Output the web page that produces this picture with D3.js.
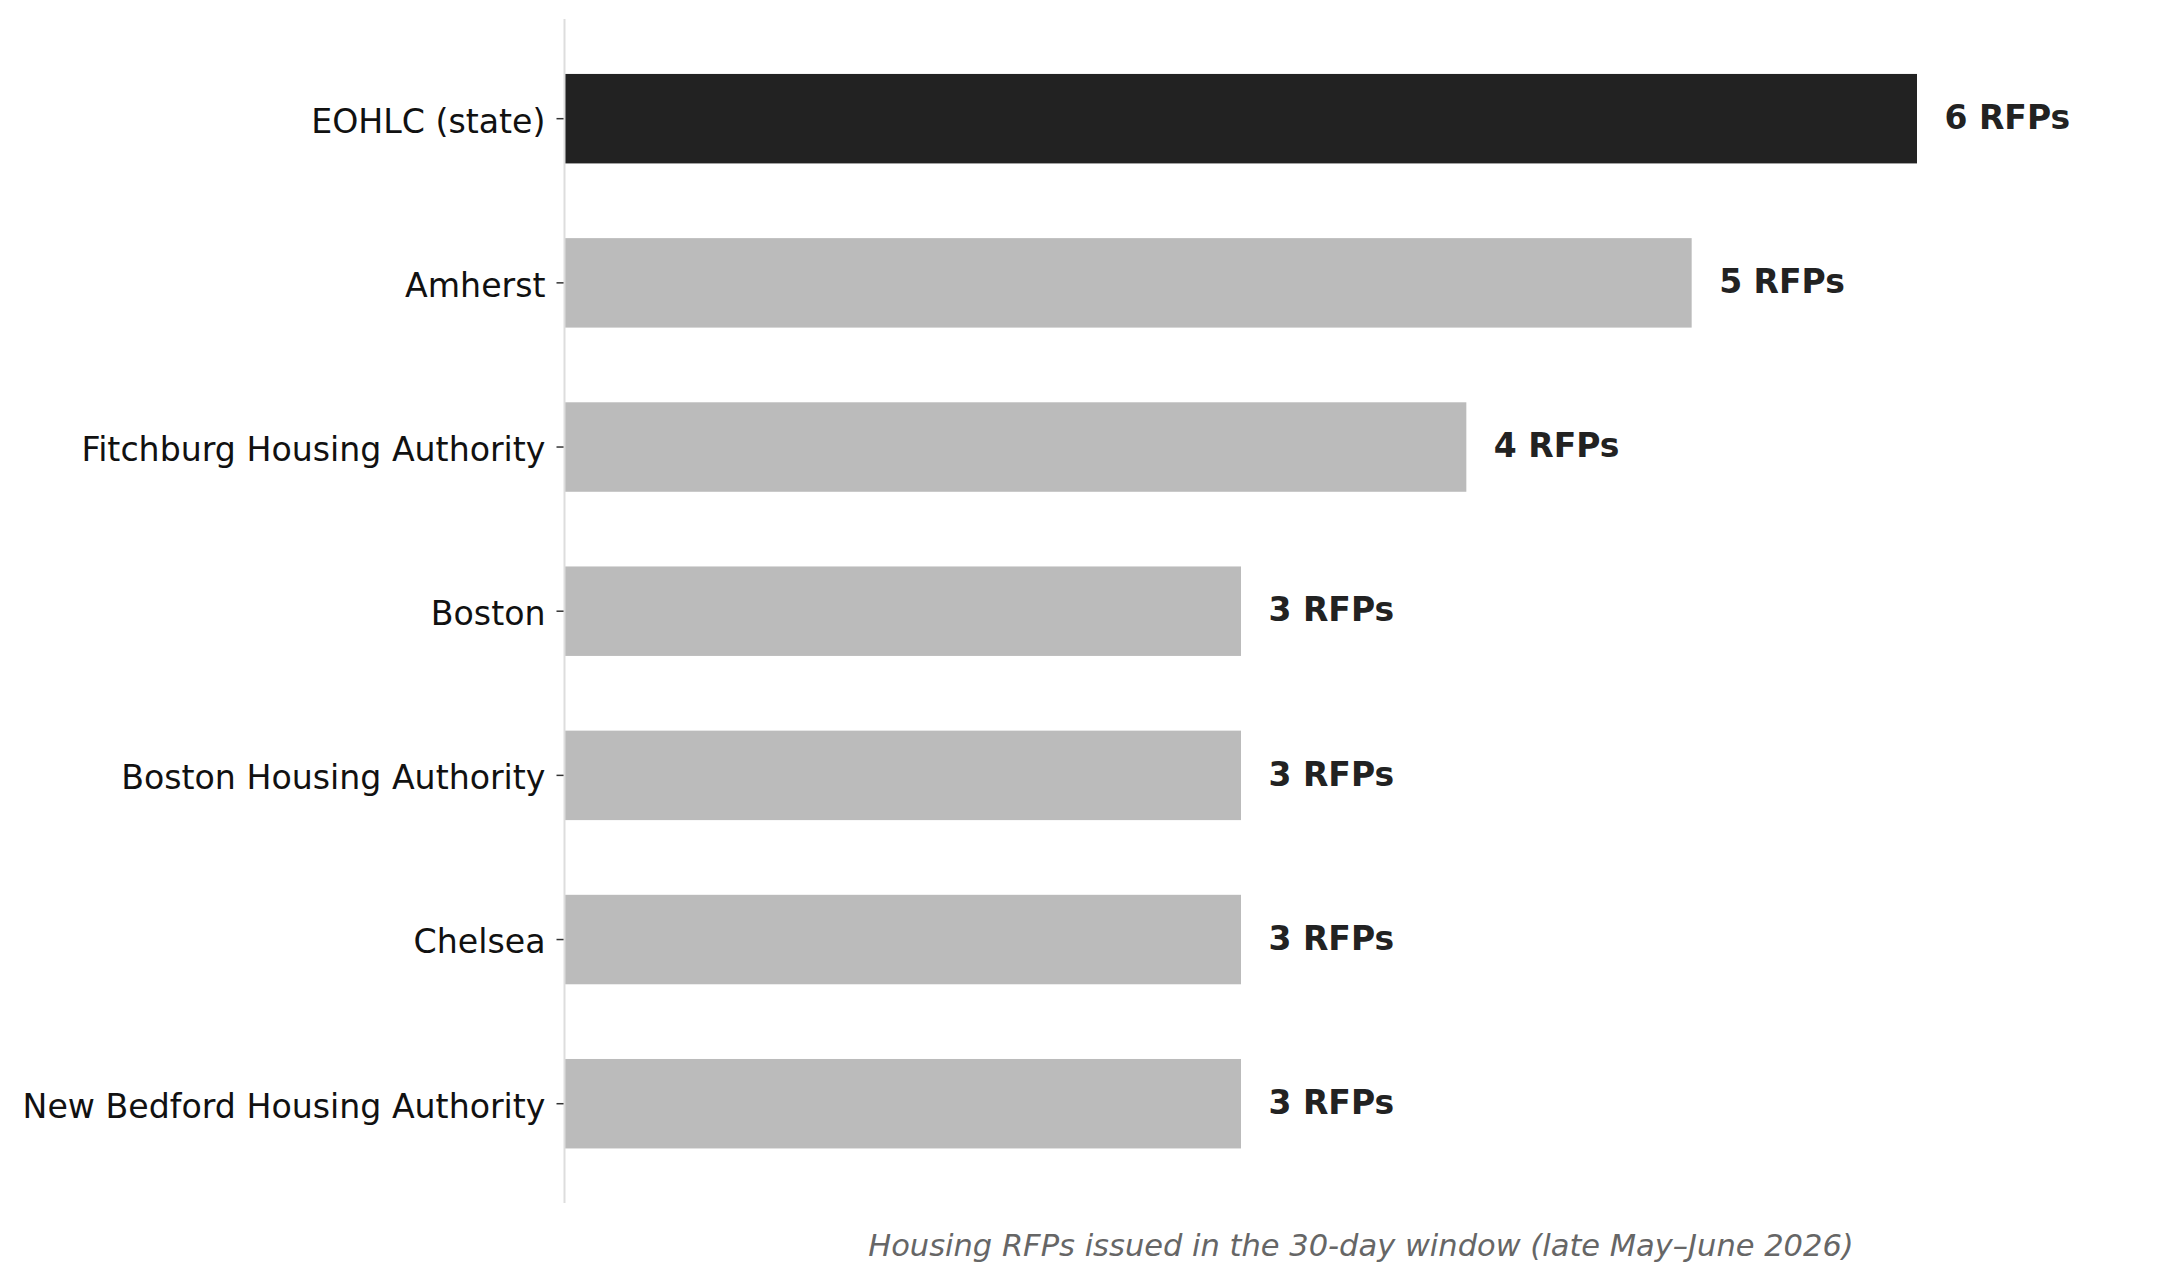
<!DOCTYPE html>
<html>
<head>
<meta charset="utf-8">
<script src="https://d3js.org/d3.v7.min.js"></script>
<style>
  body { margin: 0; background: #fff; }
  text { font-family: "DejaVu Sans", sans-serif; }
</style>
</head>
<body>
<svg width="2179" height="1280"></svg>
<script>
// data
var agencies = ["EOHLC (state)", "Amherst", "Fitchburg Housing Authority", "Boston",
                "Boston Housing Authority", "Chelsea", "New Bedford Housing Authority"];
var rfpCounts = [6, 5, 4, 3, 3, 3, 3];
var highlight = "EOHLC (state)";
var caption = "Housing RFPs issued in the 30-day window (late May\u2013June 2026)";

var svg = d3.select("svg");

var x = d3.scaleLinear().domain([0, 6]).range([565, 1917]);
var y = d3.scaleBand()
  .domain(agencies)
  .range([36.6, 1185.8])
  .paddingInner(0.455)
  .paddingOuter(0.2275);

// bars
svg.append("g").selectAll("rect")
  .data(agencies).enter().append("rect")
  .attr("x", x(0))
  .attr("y", function(d) { return y(d); })
  .attr("width", function(d, i) { return x(rfpCounts[i]) - x(0); })
  .attr("height", y.bandwidth())
  .attr("fill", function(d) { return d == highlight ? "#222222" : "#bbbbbb"; });

// value labels
svg.append("g").selectAll("text")
  .data(agencies).enter().append("text")
  .attr("x", function(d, i) { return x(rfpCounts[i]) + 27.5; })
  .attr("y", function(d) { return y(d) + y.bandwidth() / 2; })
  .attr("dy", "0.31em")
  .attr("font-size", 33)
  .attr("font-weight", "bold")
  .attr("fill", "#222")
  .text(function(d, i) { return rfpCounts[i] + " RFPs"; });

// y axis
var yAxis = svg.append("g")
  .attr("transform", "translate(" + (x(0) - 0.5) + ",0)")
  .call(d3.axisLeft(y).tickSize(8).tickPadding(11));
yAxis.select(".domain").remove();
yAxis.selectAll(".tick line").attr("stroke", "#333").attr("stroke-width", 1.5);
yAxis.selectAll(".tick text")
  .attr("font-family", "DejaVu Sans")
  .attr("font-size", 33.2)
  .attr("fill", "#111")
  .attr("dy", "0.42em");

svg.append("line")
  .attr("x1", x(0) - 0.5).attr("x2", x(0) - 0.5)
  .attr("y1", 19).attr("y2", 1203)
  .attr("stroke", "#dddddd").attr("stroke-width", 2);

// caption
svg.append("text")
  .attr("x", 1361)
  .attr("y", 1256)
  .attr("text-anchor", "middle")
  .attr("font-size", 30.5)
  .attr("font-style", "italic")
  .attr("fill", "#666")
  .text(caption);
</script>
</body>
</html>
